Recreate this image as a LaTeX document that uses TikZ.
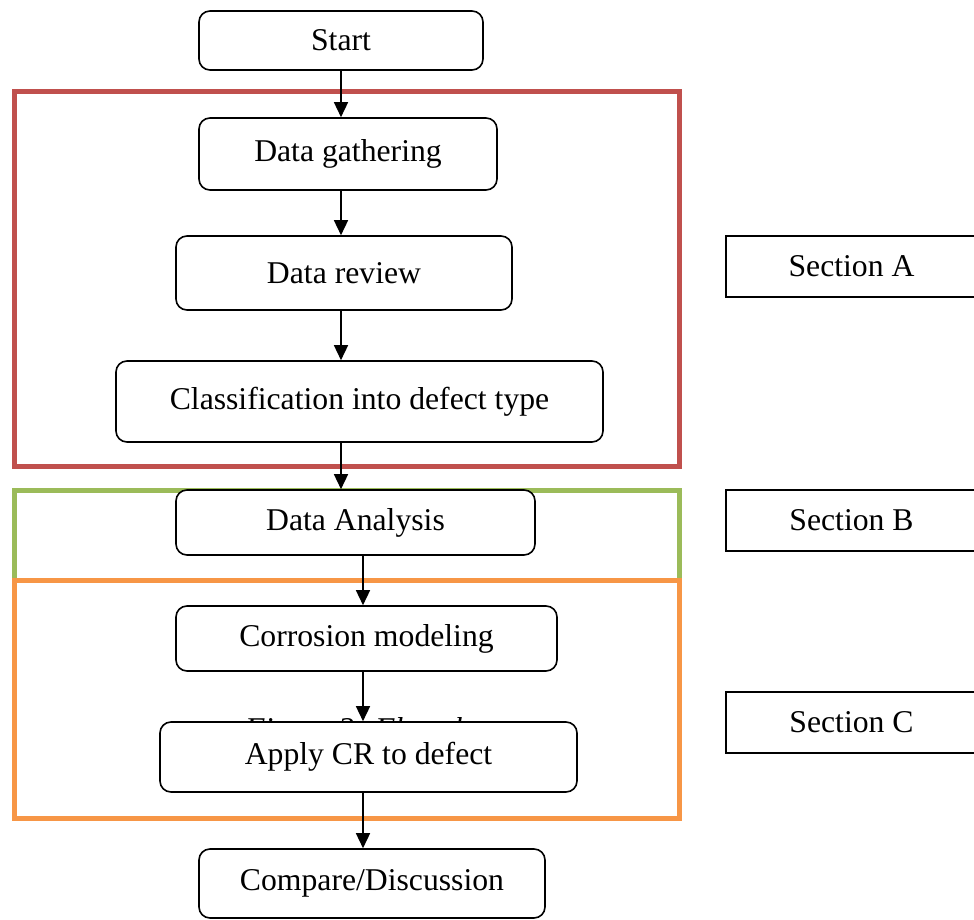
\documentclass[tikz,border=0pt]{standalone}
\usepackage{fontspec}
\setmainfont{Liberation Serif}
\usetikzlibrary{arrows.meta}
\definecolor{secred}{HTML}{C0504D}
\definecolor{secgreen}{HTML}{9BBB59}
\definecolor{secorange}{HTML}{F79646}
\begin{document}
\begin{tikzpicture}[x=1pt,y=-1pt,
  stepbox/.style={draw=black, line width=1.6pt, rounded corners=11pt, fill=white,
    inner sep=0pt, font=\fontsize{31.7}{38}\selectfont},
  secbox/.style={draw=black, line width=1.4pt, fill=white, inner sep=0pt,
    minimum width=251pt, minimum height=61pt, font=\fontsize{31.7}{38}\selectfont},
  frame/.style={line width=5pt},
  arr/.style={line width=1.5pt, -{Triangle[length=15pt,width=14pt]}}]
\clip (0,0) rectangle (974,920);
\fill[white] (0,0) rectangle (974,920);
% section frames
\draw[frame, secred] (14,92) rectangle (679,466);
\draw[frame, secgreen] (14,490) rectangle (679,580);
\draw[frame, secorange] (14,580) rectangle (679,818);
% hidden caption
\node[font=\fontsize{31.7}{38}\selectfont\itshape, anchor=base west, inner sep=0pt] (cap) at (245,739) {Figure 2: Flowchart};
% steps
\node[stepbox, minimum width=284pt, minimum height=59pt] (start) at (341,40.5) {Start};
\node[stepbox, minimum width=298pt, minimum height=72pt] (gather) at (348,154) {Data gathering};
\node[stepbox, minimum width=336pt, minimum height=74pt] (review) at (344,273) {Data review};
\node[stepbox, minimum width=487pt, minimum height=81pt] (classify) at (359.5,401.5) {Classification into defect type};
\node[stepbox, minimum width=359pt, minimum height=65pt] (analysis) at (355.5,522.5) {Data Analysis};
\node[stepbox, minimum width=381pt, minimum height=65pt] (corrosion) at (366.5,638.5) {Corrosion modeling};
\node[stepbox, minimum width=417pt, minimum height=70pt] (apply) at (368.5,757) {Apply CR to defect};
\node[stepbox, minimum width=346pt, minimum height=69pt] (compare) at (372,883.5) {Compare/Discussion};
% section labels
\node[secbox] (secA) at (851.5,266.5) {Section A};
\node[secbox] (secB) at (851.5,520.5) {Section B};
\node[secbox] (secC) at (851.5,722.5) {Section C};
% arrows
\coordinate (xA) at (341,0);
\coordinate (xB) at (363,0);
\draw[arr] (start.south -| xA) -- (gather.north -| xA);
\draw[arr] (gather.south -| xA) -- (review.north -| xA);
\draw[arr] (review.south -| xA) -- (classify.north -| xA);
\draw[arr] (classify.south -| xA) -- (analysis.north -| xA);
\draw[arr] (analysis.south -| xB) -- (corrosion.north -| xB);
\draw[arr] (corrosion.south -| xB) -- (apply.north -| xB);
\draw[arr] (apply.south -| xB) -- (compare.north -| xB);
\end{tikzpicture}
\end{document}
